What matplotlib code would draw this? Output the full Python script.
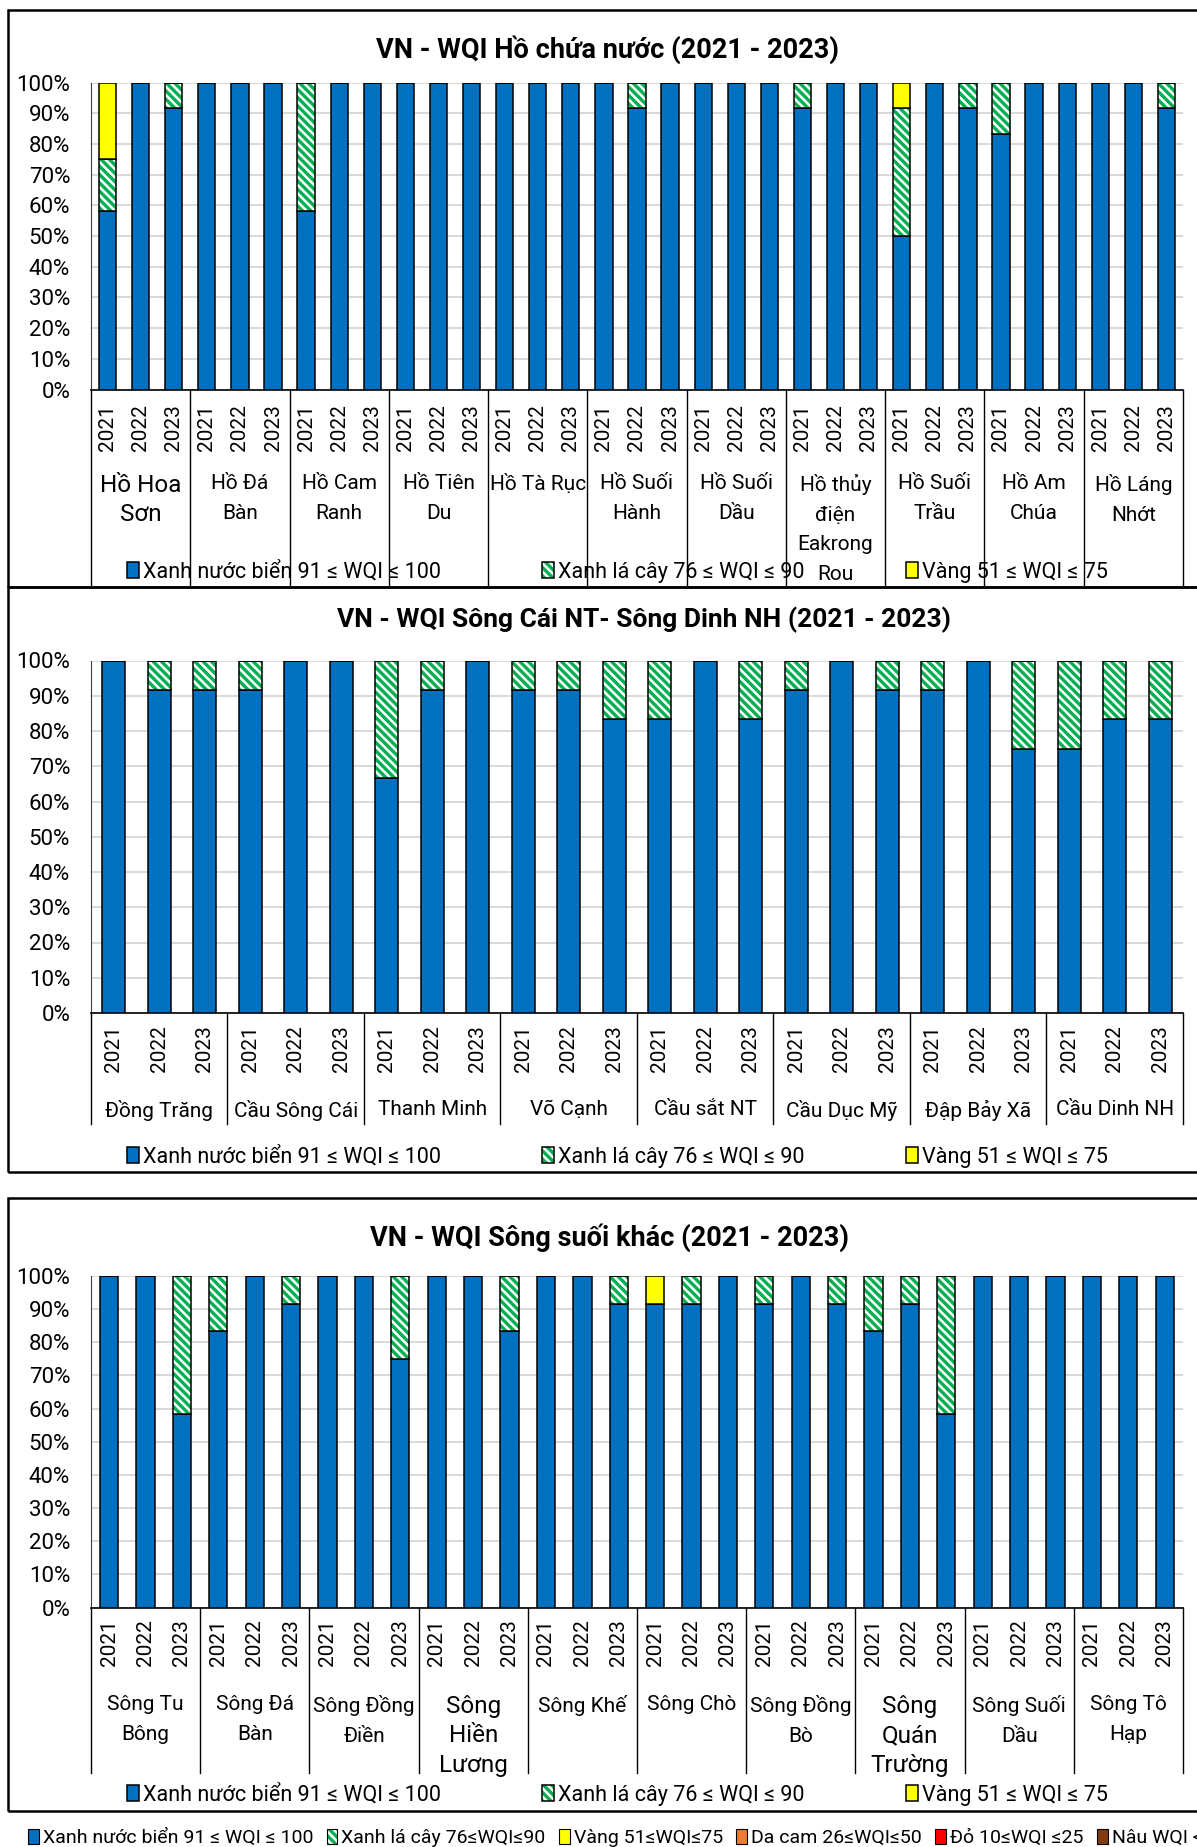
import numpy as np
import matplotlib
matplotlib.use("Agg")
import matplotlib.pyplot as plt
from matplotlib.patches import Rectangle, Patch
from matplotlib.transforms import blended_transform_factory
from matplotlib.colors import to_rgba

# ── canvas ────────────────────────────────────────────────────────────────────
W, H = 1197, 1847
plt.rcParams["font.family"] = ["Roboto", "Noto Sans", "DejaVu Sans"]
plt.rcParams["hatch.linewidth"] = 2.4

C_BLUE = "#0070C0"
C_GREEN = "#00B050"
C_YELLOW = "#FFFF00"
C_ORANGE = "#ED7D31"
C_RED = "#FF0000"
C_BROWN = "#843C0C"
C_GRID = "#D9D9D9"
HATCH = "\\\\\\\\"

YEARS = ["2021", "2022", "2023"]

LBL_BLUE = "Xanh nước biển 91 ≤ WQI ≤ 100"
LBL_GREEN = "Xanh lá cây 76 ≤ WQI ≤ 90"
LBL_YELLOW = "Vàng 51 ≤ WQI ≤ 75"

# ── panel 1: reservoirs (% of samples per class) ─────────────────────────────
HO_TITLE = "VN - WQI Hồ chứa nước (2021 - 2023)"
HO_NAMES = ["Hồ Hoa\nSơn", "Hồ Đá\nBàn", "Hồ Cam\nRanh", "Hồ Tiên\nDu", "Hồ Tà Rục",
            "Hồ Suối\nHành", "Hồ Suối\nDầu", "Hồ thủy\nđiện\nEakrong\nRou",
            "Hồ Suối\nTrầu", "Hồ Am\nChúa", "Hồ Láng\nNhớt"]
HO_BLUE = [58.3, 100, 91.7, 100, 100, 100, 58.3, 100, 100, 100, 100, 100,
           100, 100, 100, 100, 91.7, 100, 100, 100, 100, 91.7, 100, 100,
           50, 100, 91.7, 83.3, 100, 100, 100, 100, 91.7]
HO_GREEN = [16.7, 0, 8.3, 0, 0, 0, 41.7, 0, 0, 0, 0, 0,
            0, 0, 0, 0, 8.3, 0, 0, 0, 0, 8.3, 0, 0,
            41.7, 0, 8.3, 16.7, 0, 0, 0, 0, 8.3]
HO_YELLOW = [25, 0, 0, 0, 0, 0, 0, 0, 0, 0, 0, 0,
             0, 0, 0, 0, 0, 0, 0, 0, 0, 0, 0, 0,
             8.3, 0, 0, 0, 0, 0, 0, 0, 0]

# ── panel 2: Cái NT / Dinh NH rivers ─────────────────────────────────────────
SC_TITLE = "VN - WQI Sông Cái NT- Sông Dinh NH (2021 - 2023)"
SC_NAMES = ["Đồng Trăng", "Cầu Sông Cái", "Thanh Minh", "Võ Cạnh",
            "Cầu sắt NT", "Cầu Dục Mỹ", "Đập Bảy Xã", "Cầu Dinh NH"]
SC_BLUE = [100, 91.7, 91.7, 91.7, 100, 100, 66.7, 91.7, 100, 91.7, 91.7, 83.3,
           83.3, 100, 83.3, 91.7, 100, 91.7, 91.7, 100, 75, 75, 83.3, 83.3]
SC_GREEN = [0, 8.3, 8.3, 8.3, 0, 0, 33.3, 8.3, 0, 8.3, 8.3, 16.7,
            16.7, 0, 16.7, 8.3, 0, 8.3, 8.3, 0, 25, 25, 16.7, 16.7]
SC_YELLOW = [0] * 24

# ── panel 3: other rivers ────────────────────────────────────────────────────
SK_TITLE = "VN - WQI Sông suối khác (2021 - 2023)"
SK_NAMES = ["Sông Tu\nBông", "Sông Đá\nBàn", "Sông Đồng\nĐiền", "Sông\nHiền\nLương",
            "Sông Khế", "Sông Chò", "Sông Đồng\nBò", "Sông\nQuán\nTrường",
            "Sông Suối\nDầu", "Sông Tô\nHạp"]
SK_BLUE = [100, 100, 58.3, 83.3, 100, 91.7, 100, 100, 75, 100, 100, 83.3,
           100, 100, 91.7, 91.7, 91.7, 100, 91.7, 100, 91.7, 83.3, 91.7, 58.3,
           100, 100, 100, 100, 100, 100]
SK_GREEN = [0, 0, 41.7, 16.7, 0, 8.3, 0, 0, 25, 0, 0, 16.7,
            0, 0, 8.3, 0, 8.3, 0, 8.3, 0, 8.3, 16.7, 8.3, 41.7,
            0, 0, 0, 0, 0, 0]
SK_YELLOW = [0] * 15 + [8.3] + [0] * 14

# ── bottom full-scale legend ─────────────────────────────────────────────────
SCALE_LABELS = ["Xanh nước biển 91 ≤ WQI ≤ 100", "Xanh lá cây 76≤WQI≤90",
                "Vàng 51≤WQI≤75", "Da cam 26≤WQI≤50", "Đỏ 10≤WQI ≤25", "Nâu WQI < 10"]
SCALE_COLORS = [C_BLUE, "white", C_YELLOW, C_ORANGE, C_RED, C_BROWN]

fig = plt.figure(figsize=(W / 100, H / 100), dpi=100)


def fy(px):
    return 1 - px / H


def set_hatch_green(patch):
    try:
        patch.set_hatchcolor(C_GREEN)
    except AttributeError:
        patch._hatch_color = to_rgba(C_GREEN)


def panel(title, title_xy, names, blue, green, yellow, y100, y0, y_year,
          y_name, y_sep, y_leg, box, title_fs=19.5, big_names=()):
    ax = fig.add_axes([91 / W, fy(y0), 1092 / W, (y0 - y100) / H])
    n = len(blue)
    x = np.arange(n)
    b = np.array(blue, dtype=float)
    g = np.array(green, dtype=float)
    yv = np.array(yellow, dtype=float)
    bw = 0.52 if n > 30 else 0.5
    hb = ax.bar(x, b, width=bw, color=C_BLUE, edgecolor="black", lw=1.1, zorder=3)
    hg = ax.bar(x, g, bottom=b, width=bw, color="white", edgecolor="black",
                hatch=HATCH, lw=1.1, zorder=3)
    for p in hg:
        set_hatch_green(p)
    hy = ax.bar(x, yv, bottom=b + g, width=bw, color=C_YELLOW, edgecolor="black",
                lw=1.1, zorder=3)

    ax.set_xlim(-0.5, n - 0.5)
    ax.set_ylim(0, 100)
    ax.set_yticks(np.arange(0, 101, 10))
    ax.set_yticklabels([f"{v}%" for v in range(0, 101, 10)], fontsize=16)
    ax.set_xticks([])
    ax.tick_params(axis="y", length=0, pad=15)
    ax.grid(axis="y", color=C_GRID, lw=1.4, zorder=0)
    ax.set_axisbelow(True)
    for s in ["top", "right"]:
        ax.spines[s].set_visible(False)
    ax.spines["left"].set_color("#404040")
    ax.spines["bottom"].set_color("black")
    ax.spines["bottom"].set_linewidth(1.2)

    trans = blended_transform_factory(ax.transData, fig.transFigure)
    for i in range(n):
        ax.text(i, fy(y_year), YEARS[i % 3], rotation=90, ha="center", va="top",
                fontsize=15, transform=trans)
    for k, name in enumerate(names):
        big = k in big_names
        ax.text(3 * k + 1, fy(y_name), name, ha="center", va="top",
                fontsize=17.5 if big else 15, linespacing=1.35 if big else 1.7,
                transform=trans)
    for k in range(len(names) + 1):
        xs = 3 * k - 0.5
        ax.plot([xs, xs], [fy(y0), fy(y_sep)], color="black", lw=1.0,
                transform=trans, clip_on=False)

    ax.legend([hb, hg, hy], [LBL_BLUE, LBL_GREEN, LBL_YELLOW], loc="center left",
              bbox_to_anchor=(127 / W, fy(y_leg)), bbox_transform=fig.transFigure,
              ncol=3, frameon=False, fontsize=15.5, columnspacing=4.7,
              handlelength=0.55, handleheight=0.8, handletextpad=0.2,
              borderaxespad=0, borderpad=0)

    fig.text(title_xy[0] / W, fy(title_xy[1]), title, ha="center", va="center",
             fontsize=title_fs, fontweight="bold")

    top, bot = box
    fig.add_artist(Rectangle((8 / W, fy(bot)), (1215 - 8) / W, (bot - top) / H,
                             fill=False, ec="black", lw=1.8,
                             transform=fig.transFigure))


panel(HO_TITLE, (608, 50), HO_NAMES, HO_BLUE, HO_GREEN, HO_YELLOW,
      y100=82.7, y0=389.5, y_year=404, y_name=474, y_sep=586, y_leg=572,
      box=(10, 587), big_names=(0,))
panel(SC_TITLE, (644, 620), SC_NAMES, SC_BLUE, SC_GREEN, SC_YELLOW,
      y100=660.5, y0=1013, y_year=1025, y_name=1100, y_sep=1124, y_leg=1157,
      box=(587, 1172), title_fs=19)
panel(SK_TITLE, (609, 1238), SK_NAMES, SK_BLUE, SK_GREEN, SK_YELLOW,
      y100=1276, y0=1607.5, y_year=1619, y_name=1695, y_sep=1773, y_leg=1795,
      box=(1198, 1811), big_names=(3, 7))

# ── bottom legend strip (full WQI scale) ─────────────────────────────────────
scale_handles = []
for i, c in enumerate(SCALE_COLORS):
    p = Patch(facecolor=c, edgecolor="black", lw=0.8,
              hatch=HATCH if i == 1 else None)
    if i == 1:
        set_hatch_green(p)
    scale_handles.append(p)
fig.legend(scale_handles, SCALE_LABELS, loc="center left",
           bbox_to_anchor=(28 / W, fy(1838)), ncol=6, frameon=False, fontsize=14,
           columnspacing=0.7, handlelength=0.55, handleheight=0.8,
           handletextpad=0.2, borderaxespad=0, borderpad=0)

fig.savefig("out.png", dpi=100)
